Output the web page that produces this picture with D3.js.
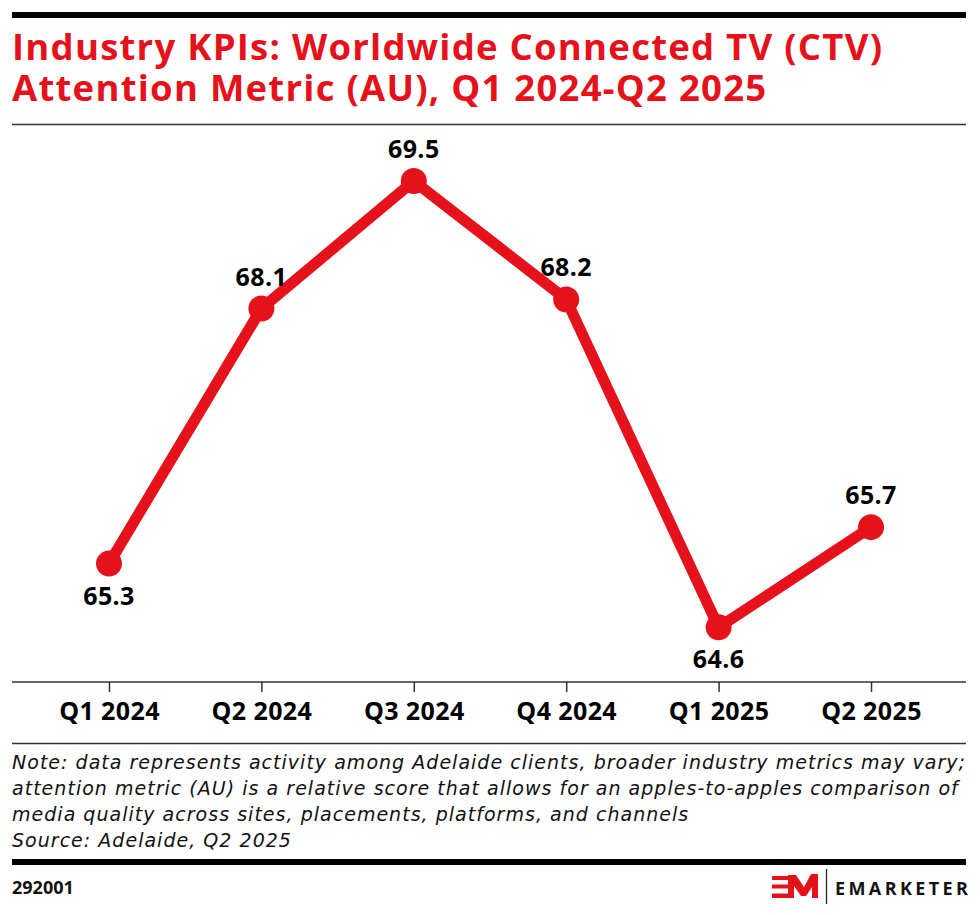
<!doctype html>
<meta charset="utf-8">
<title>CTV Attention Metric</title>
<script src="https://cdn.jsdelivr.net/npm/d3@7/dist/d3.min.js"></script>
<style>
  body { margin: 0; background: #fff; }
  svg { display: block; }
</style>
<body>
<div id="chart"></div>
<script>

    // data
    var quarters = ["Q1 2024", "Q2 2024", "Q3 2024", "Q4 2024", "Q1 2025", "Q2 2025"];
    var values = [65.3, 68.1, 69.5, 68.2, 64.6, 65.7];
    var labelBelow = [true, false, false, false, true, false];

    var titleLines = ["Industry KPIs: Worldwide Connected TV (CTV)",
                      "Attention Metric (AU), Q1 2024-Q2 2025"];
    var noteLines = ["Note: data represents activity among Adelaide clients, broader industry metrics may vary;",
                     "attention metric (AU) is a relative score that allows for an apples-to-apples comparison of",
                     "media quality across sites, placements, platforms, and channels",
                     "Source: Adelaide, Q2 2025"];
    var chartId = "292001";

    var width = 980
            , height = 915
            , left = 12
            , right = 966
            , red = "#e5121c"
            , font = "'Open Sans', sans-serif";

    var svg = d3.select("#chart").append("svg")
            .attr("width", width)
            .attr("height", height);

    // letter-spacing that makes the first text of a selection span `target` px
    function fitSpacing(sel, target) {
        var node = sel.node();
        var w = node.getComputedTextLength();
        var s = (target - w) / (node.textContent.length - 1);
        sel.style("letter-spacing", s + "px");
    }

    // top bar
    svg.append("rect").attr("x", left).attr("y", 12)
            .attr("width", right - left).attr("height", 6).attr("fill", "#000");

    var title = svg.selectAll("text.title")
            .data(titleLines)
            .enter().append("text")
            .classed("title", true)
            .attr("x", left)
            .attr("y", function(d, i) { return 60 + i * 41 })
            .attr("fill", red)
            .style("font-family", font)
            .style("font-weight", 700)
            .style("font-size", "36.5px")
            .text(function(d) { return d });
    fitSpacing(title, 870);

    svg.append("line").attr("x1", left).attr("x2", right)
            .attr("y1", 124.5).attr("y2", 124.5)
            .attr("stroke", "#333").attr("stroke-width", 1.5);

    var x = d3.scalePoint().domain(quarters).range([109, 871]);
    var y = d3.scaleLinear().domain([64, 70]).range([682, 135.5]);

    // x axis
    var axis = svg.append("g").attr("transform", "translate(0,682)")
            .call(d3.axisBottom(x).tickSize(10));
    axis.select(".domain").remove();
    axis.insert("line", ":first-child").attr("x1", left).attr("x2", right)
            .attr("stroke", "#333").attr("stroke-width", 1.5);
    axis.selectAll(".tick line").attr("stroke", "#333").attr("stroke-width", 1.5);
    axis.selectAll(".tick text")
            .attr("fill", "#000")
            .attr("y", 38)
            .attr("dy", 0)
            .style("font-family", font)
            .style("font-weight", 700)
            .style("font-size", "25px")
            .style("letter-spacing", "0.4px");

    var pts = quarters.map(function(q, i) { return { q: q, v: values[i], below: labelBelow[i] } });

    var line = d3.line()
            .x(function(d) { return x(d.q) })
            .y(function(d) { return y(d.v) });

    svg.append("path")
            .datum(pts)
            .attr("d", line)
            .attr("fill", "none")
            .attr("stroke", red)
            .attr("stroke-width", 11)
            .attr("stroke-linejoin", "round");

    svg.selectAll("circle.pt")
            .data(pts)
            .enter().append("circle")
            .classed("pt", true)
            .attr("cx", function(d) { return x(d.q) })
            .attr("cy", function(d) { return y(d.v) })
            .attr("r", 13)
            .attr("fill", red);

    svg.selectAll("text.val")
            .data(pts)
            .enter().append("text")
            .classed("val", true)
            .attr("x", function(d) { return x(d.q) })
            .attr("y", function(d) { return y(d.v) + (d.below ? 41 : -23) })
            .attr("text-anchor", "middle")
            .attr("fill", "#000")
            .style("font-family", font)
            .style("font-weight", 700)
            .style("font-size", "25px")
            .style("letter-spacing", "0.4px")
            .text(function(d) { return d.v.toFixed(1) });

    // note
    svg.append("line").attr("x1", left).attr("x2", right)
            .attr("y1", 743.5).attr("y2", 743.5)
            .attr("stroke", "#333").attr("stroke-width", 1.5);

    var notes = svg.selectAll("text.note")
            .data(noteLines)
            .enter().append("text")
            .classed("note", true)
            .attr("x", left)
            .attr("y", function(d, i) { return 769 + i * 26 })
            .attr("fill", "#111")
            .style("font-family", "'DejaVu Sans', sans-serif")
            .style("font-style", "italic")
            .style("font-size", "19px")
            .text(function(d) { return d });
    fitSpacing(notes, 953);

    svg.append("rect").attr("x", left).attr("y", 859)
            .attr("width", right - left).attr("height", 6).attr("fill", "#000");

    svg.append("text")
            .attr("x", left).attr("y", 894)
            .attr("fill", "#111")
            .style("font-family", font)
            .style("font-weight", 700)
            .style("font-size", "18px")
            .text(chartId);

    // logo
    var logo = svg.append("g");
    [[876, 4], [884.5, 4], [893.5, 4.5]].forEach(function(b) {
        logo.append("rect").attr("x", 772).attr("y", b[0])
                .attr("width", 16).attr("height", b[1]).attr("fill", red);
    });
    logo.append("path")
            .attr("d", "M788,875 L796,875 L804,887 L811,874 L818,874 L818,898 L812,898 L812,887 L806,896 L801,896 L794,886 L794,898 L788,898 Z")
            .attr("fill", red);
    logo.append("line").attr("x1", 826.5).attr("x2", 826.5)
            .attr("y1", 869).attr("y2", 904)
            .attr("stroke", "#222").attr("stroke-width", 1.3);
    logo.append("text")
            .attr("x", 835).attr("y", 895)
            .attr("fill", "#111")
            .style("font-family", font)
            .style("font-weight", 700)
            .style("font-size", "18px")
            .style("letter-spacing", "3.4px")
            .text("EMARKETER");

</script>
</body>
